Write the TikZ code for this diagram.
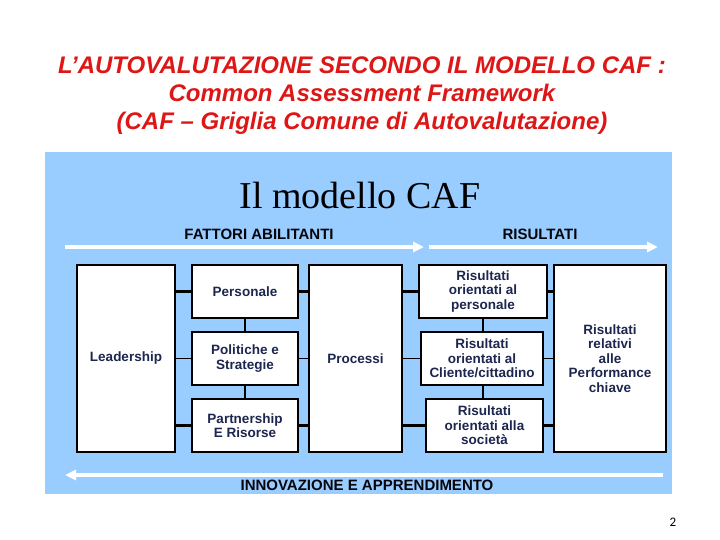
\documentclass[tikz,border=0pt]{standalone}
\usepackage{fontspec}
\setmainfont{Liberation Sans}
\newfontfamily\cafserif{Liberation Serif}
\newfontfamily\cafnum{Carlito}
\usetikzlibrary{arrows.meta}
\definecolor{cpanel}{RGB}{153,204,255}
\definecolor{cnavy}{RGB}{28,38,78}
\definecolor{ctitle}{RGB}{222,22,22}
\tikzset{
  cafsheet/.style={x=1pt,y=-1pt},
  cafbox/.style={draw=black,fill=white,line width=1.6pt,inner sep=1pt,outer sep=0pt,
    align=center,text=cnavy,font=\bfseries\fontsize{13.5}{14.5}\selectfont},
  cafhead/.style={text=black!85!cnavy,font=\bfseries\fontsize{15}{18}\selectfont},
  cafred/.style={anchor=base,text=ctitle,font=\bfseries\itshape\fontsize{24}{28}\selectfont},
  flowarrow/.style={white,line width=3.5pt,-{Triangle[length=11pt,width=10pt]}},
  biglink/.style={line width=3pt},
  midlink/.style={line width=2.2pt},
  thinlink/.style={line width=1.8pt}
}

\begin{document}
\begin{tikzpicture}[cafsheet]
    \useasboundingbox (0,0) rectangle (720,540);
    \fill[white] (0,0) rectangle (720,540);
    % slide heading
    \node[cafred] (h1) at (362,73.5) {L’AUTOVALUTAZIONE SECONDO IL MODELLO CAF :};
    \node[cafred] (h2) at (362,101.5) {Common Assessment Framework};
    \node[cafred] (h3) at (362,130) {(CAF – Griglia Comune di Autovalutazione)};
    \fill[cpanel] (45,152) rectangle (672,494);
    \node[font=\cafserif\fontsize{38}{40}\selectfont] (caf) at (360,196) {Il modello CAF};
    \node[cafhead] (fatt) at (259,234) {FATTORI ABILITANTI};
    \node[cafhead] (ris) at (540,234) {RISULTATI};
    \node[cafhead] (innov) at (367,485) {INNOVAZIONE E APPRENDIMENTO};
    \coordinate (fa0) at (65,247);   \coordinate (fa1) at (424,247);
    \coordinate (ri0) at (429,247);  \coordinate (ri1) at (658,247);
    \coordinate (in0) at (663,475);  \coordinate (in1) at (65,475);
    \draw[flowarrow] (fa0) -- (fa1);
    \draw[flowarrow] (ri0) -- (ri1);
    \draw[flowarrow] (in0) -- (in1);
    % enablers
    \node[cafbox,minimum width=98pt,minimum height=187pt] (lead) at (126,358.5) {Leadership};
    \node[cafbox,minimum width=106pt,minimum height=53pt] (pers) at (245,291.5) {Personale};
    \node[cafbox,minimum width=106pt,minimum height=53pt] (pol) at (245,358.5) {Politiche e\\Strategie};
    \node[cafbox,minimum width=106pt,minimum height=53pt] (part) at (245,425.5) {Partnership\\E Risorse};
    \node[cafbox,minimum width=93pt,minimum height=187pt] (proc) at (355.5,358.5) {Processi};
    % results
    \node[cafbox,minimum width=128pt,minimum height=53pt] (rpers) at (483,291.5) {Risultati\\orientati al\\personale};
    \node[cafbox,minimum width=122pt,minimum height=53pt] (rcli) at (482,358.5) {Risultati\\orientati al\\Cliente/cittadino};
    \node[cafbox,minimum width=117pt,minimum height=53pt] (rsoc) at (484.5,425.5) {Risultati\\orientati alla\\società};
    \node[cafbox,minimum width=112pt,minimum height=187pt] (rperf) at (610,358.5) {Risultati\\relativi\\alle\\Performance\\chiave};
    \draw[biglink] (lead.east |- pers.west) -- (pers.west);
    \draw[biglink] (pers.east) -- (proc.west |- pers.east);
    \draw[thinlink] (lead.east |- pol.west) -- (pol.west);
    \draw[thinlink] (pol.east) -- (proc.west |- pol.east);
    \draw[midlink] (lead.east |- part.west) -- (part.west);
    \draw[midlink] (part.east) -- (proc.west |- part.east);
    \draw[midlink] (pers.south) -- (pol.north);
    \draw[midlink] (pol.south) -- (part.north);
    \draw[biglink] (proc.east |- rpers.west) -- (rpers.west);
    \draw[biglink] (rpers.east) -- (rperf.west |- rpers.east);
    \draw[thinlink] (proc.east |- rcli.west) -- (rcli.west);
    \draw[thinlink] (rcli.east) -- (rperf.west |- rcli.east);
    \draw[midlink] (proc.east |- rsoc.west) -- (rsoc.west);
    \draw[midlink] (rsoc.east) -- (rperf.west |- rsoc.east);
    \draw[midlink] (rpers.south) -- (rpers.south |- rcli.north);
    \draw[midlink] (rpers.south |- rcli.south) -- (rpers.south |- rsoc.north);
    \node[font=\cafnum\fontsize{13}{15}\selectfont] (pg) at (673,522) {2};
\end{tikzpicture}
\end{document}
